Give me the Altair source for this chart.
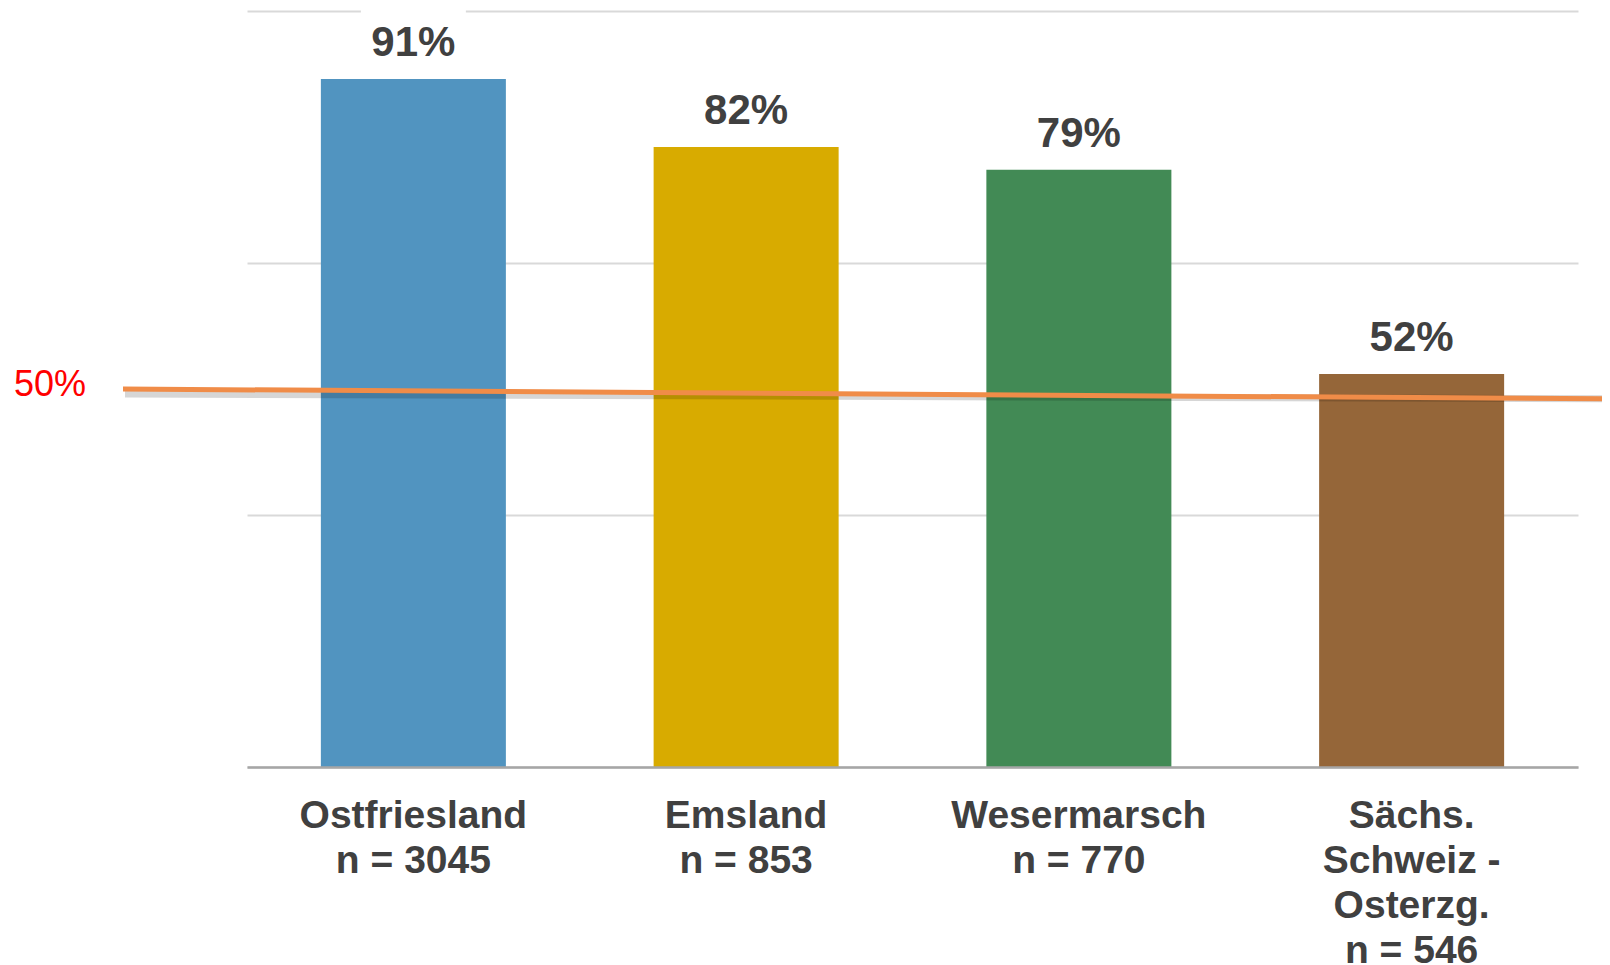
import altair as alt
import pandas as pd

# ---- data ----
regions = ["Ostfriesland", "Emsland", "Wesermarsch", "Sächs. Schweiz - Osterzg."]
label_lines = [
    "Ostfriesland|n = 3045",
    "Emsland|n = 853",
    "Wesermarsch|n = 770",
    "Sächs.|Schweiz -|Osterzg.|n = 546",
]
sample_sizes = [3045, 853, 770, 546]
shares = [0.91, 0.82, 0.79, 0.52]
share_labels = ["91%", "82%", "79%", "52%"]
bar_colors = ["#5194C0", "#D8AB00", "#428A55", "#956639"]
gridline_values = [0, 1 / 3, 2 / 3, 1]
reference_start = [0.50]
reference_end = [0.487]
reference_label = ["50%"]

FONT = "Liberation Sans"
TEXT_COLOR = "#404040"

df = pd.DataFrame({
    "region": regions,
    "label": label_lines,
    "n": sample_sizes,
    "share": shares,
    "text": share_labels,
    "color": bar_colors,
})
ref = pd.DataFrame({"y": reference_start, "y2": reference_end, "t": reference_label})

x_enc = alt.X(
    "label:N",
    sort=label_lines,
    scale=alt.Scale(paddingInner=0.444, paddingOuter=0.222),
    axis=alt.Axis(
        title=None,
        labelExpr="split(datum.label, '|')",
        labelAngle=0,
        labelFont=FONT,
        labelFontSize=39,
        labelFontWeight="bold",
        labelColor=TEXT_COLOR,
        labelPadding=29,
        labelLineHeight=45,
        labelLimit=0,
        labelBaseline="top",
        ticks=False,
        domainColor="#A6A6A6",
        domainWidth=2.5,
        zindex=1,
    ),
)
y_scale = alt.Scale(domain=[0, 1], nice=False, zero=True)
y_enc = alt.Y(
    "share:Q",
    scale=y_scale,
    axis=alt.Axis(
        title=None,
        values=gridline_values,
        labels=False,
        ticks=False,
        domain=False,
        grid=True,
        gridColor="#D9D9D9",
        gridWidth=2,
    ),
)

bars = alt.Chart(df).mark_bar().encode(
    x=x_enc,
    y=y_enc,
    color=alt.Color("color:N", scale=None),
)

# white label boxes (mask the gridline behind the labels, as in the reference)
masks = alt.Chart(df).transform_calculate(
    lo="datum.share + 0.03", hi="datum.share + 0.12"
).mark_bar(width=105, color="white").encode(
    x=alt.X("label:N", sort=label_lines),
    y=alt.Y("lo:Q", scale=y_scale),
    y2="hi:Q",
)

values = alt.Chart(df).mark_text(
    font=FONT, fontSize=42, fontWeight="bold", color=TEXT_COLOR,
    baseline="alphabetic", dy=-23,
).encode(
    x=alt.X("label:N", sort=label_lines),
    y=alt.Y("share:Q", scale=y_scale),
    text="text:N",
)

line_shadow = alt.Chart(ref).mark_rule(
    color="#000000", opacity=0.16, strokeWidth=7, yOffset=5
).encode(
    x=alt.value(-122), x2=alt.value(1358),
    y=alt.Y("y:Q", scale=y_scale), y2="y2:Q",
)
line = alt.Chart(ref).mark_rule(color="#F08C48", strokeWidth=5).encode(
    x=alt.value(-124), x2=alt.value(1356),
    y=alt.Y("y:Q", scale=y_scale), y2="y2:Q",
)

label = alt.Chart(ref).mark_text(
    font=FONT, fontSize=36, align="left", baseline="alphabetic",
    dy=7, color="#FF0000",
).encode(x=alt.value(-233), y=alt.Y("y:Q", scale=y_scale), text="t:N")

chart = alt.layer(
    bars, masks, values, line_shadow, line, label
).properties(
    width=1331,
    height=756,
    autosize=alt.AutoSizeParams(type="none"),
    padding={"left": 239, "top": 3, "right": 24, "bottom": 206},
    background="white",
).configure_view(stroke=None)

chart.save("out.html", embed_options={"renderer": "svg", "actions": False})
